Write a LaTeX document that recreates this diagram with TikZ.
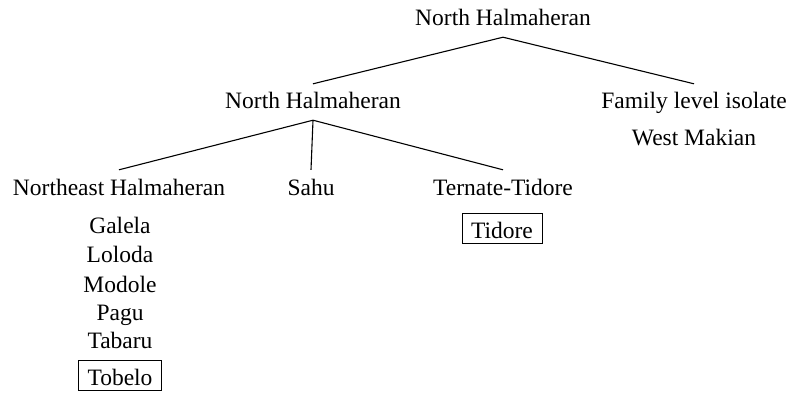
\documentclass[tikz,border=0pt]{standalone}
\usepackage{fontspec}
\setmainfont{Liberation Serif}
\begin{document}
\begin{tikzpicture}[x=1bp,y=-1bp,
  lab/.style={inner sep=0pt,anchor=base,text height=16bp,text depth=5bp,font=\fontsize{23.5bp}{28bp}\selectfont},
  boxed/.style={lab,draw,line width=0.8bp,text height=20bp,text depth=0bp,inner xsep=9bp,inner ysep=5bp},
  edge/.style={line width=1.1bp}]
\useasboundingbox (0,0) rectangle (790,393);
\node[lab] (root) at (503,25) {North Halmaheran};
\node[lab] (nh) at (313,108) {North Halmaheran};
\node[lab] (fam) at (694,108) {Family level isolate};
\node[lab] (wm) at (694,145) {West Makian};
\node[lab] (ne) at (119,195) {Northeast Halmaheran};
\node[lab] (sahu) at (311,195) {Sahu};
\node[lab] (tt) at (503,195) {Ternate-Tidore};
\node[boxed] (tid) at (502,238) {Tidore};
\node[lab] (gal) at (120,233) {Galela};
\node[lab] (lol) at (120,262) {Loloda};
\node[lab] (mod) at (120,292) {Modole};
\node[lab] (pag) at (120,320) {Pagu};
\node[lab] (tab) at (120,348) {Tabaru};
\node[boxed] (tob) at (120,385) {Tobelo};
\draw[edge] ([yshift=-7bp]root.south) -- ([yshift=8bp]nh.north);
\draw[edge] ([yshift=-7bp]root.south) -- ([yshift=8bp]fam.north);
\draw[edge] ([yshift=-7bp]nh.south) -- ([yshift=9bp]ne.north);
\draw[edge] ([yshift=-7bp]nh.south) -- ([yshift=9bp]sahu.north);
\draw[edge] ([yshift=-7bp]nh.south) -- ([yshift=9bp]tt.north);
\end{tikzpicture}
\end{document}
